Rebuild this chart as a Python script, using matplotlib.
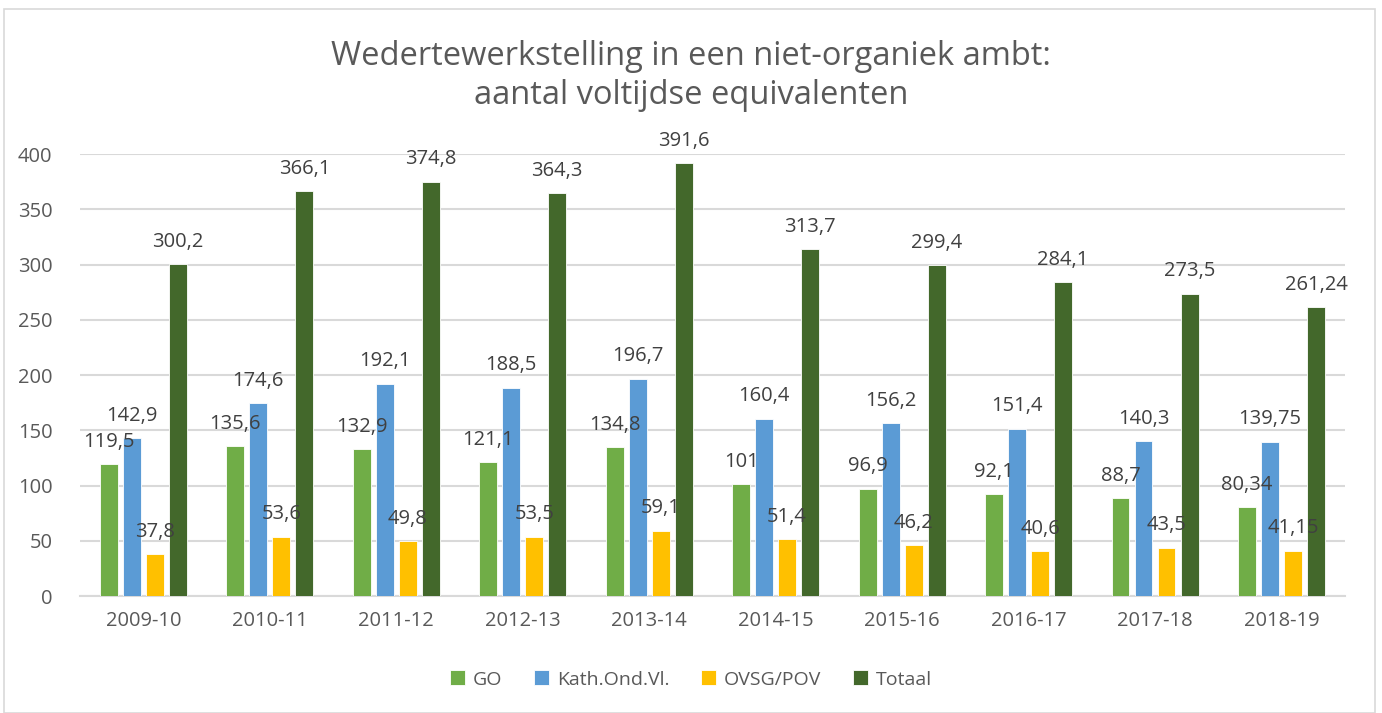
import matplotlib
matplotlib.use("Agg")
import matplotlib.pyplot as plt
from matplotlib.patches import Rectangle
import numpy as np

categories = ["2009-10", "2010-11", "2011-12", "2012-13", "2013-14",
              "2014-15", "2015-16", "2016-17", "2017-18", "2018-19"]
go = [119.5, 135.6, 132.9, 121.1, 134.8, 101, 96.9, 92.1, 88.7, 80.34]
kath = [142.9, 174.6, 192.1, 188.5, 196.7, 160.4, 156.2, 151.4, 140.3, 139.75]
ovsg = [37.8, 53.6, 49.8, 53.5, 59.1, 51.4, 46.2, 40.6, 43.5, 41.15]
totaal = [300.2, 366.1, 374.8, 364.3, 391.6, 313.7, 299.4, 284.1, 273.5, 261.24]
series_names = ["GO", "Kath.Ond.Vl.", "OVSG/POV", "Totaal"]
colors = ["#70AD47", "#5B9BD5", "#FFC000", "#43682B"]
title = "Wedertewerkstelling in een niet-organiek ambt:\naantal voltijdse equivalenten"

plt.rcParams['font.family'] = ['Open Sans', 'DejaVu Sans']

fig = plt.figure(figsize=(13.82, 7.13), dpi=100)
ax = fig.add_axes([0.058, 0.164, 0.915, 0.62])

x = np.arange(len(categories))
width = 0.142
step = 0.182
series = [go, kath, ovsg, totaal]

def fmt(v):
    s = ("%.2f" % v).rstrip("0").rstrip(".")
    return s.replace(".", ",")

for i, (vals, name, col) in enumerate(zip(series, series_names, colors)):
    offs = (i - 1.5) * step
    ax.bar(x + offs, vals, width, color=col, label=name, zorder=3,
           edgecolor="white", linewidth=0.6)
    for xi, v in zip(x + offs, vals):
        ax.annotate(fmt(v), (xi, v), xytext=(0, 9), textcoords="offset points",
                    ha="center", va="bottom", fontsize=14.5, color="#404040",
                    annotation_clip=False, zorder=5)

ax.set_ylim(0, 400)
ax.set_xlim(-0.5, len(categories) - 0.5)
ax.set_yticks(range(0, 401, 50))
ax.set_xticks(x)
ax.set_xticklabels(categories)
ax.tick_params(axis="both", length=0, labelsize=14.5, labelcolor="#595959")
ax.tick_params(axis="x", pad=11)
ax.tick_params(axis="y", pad=20)
ax.grid(axis="y", color="#D9D9D9", linewidth=1.5, zorder=0)
for s in ["top", "right", "left"]:
    ax.spines[s].set_visible(False)
ax.spines["bottom"].set_color("#D9D9D9")
ax.spines["bottom"].set_linewidth(1.5)

fig.text(0.5, 0.893, title, ha="center", va="center", fontsize=23.5,
         color="#595959", linespacing=1.25)

leg = fig.legend(loc="center", bbox_to_anchor=(0.5, 0.047), ncol=4,
                 frameon=False, fontsize=14, handlelength=0.8, handleheight=0.8,
                 handletextpad=0.4, columnspacing=1.6)
for t in leg.get_texts():
    t.set_color("#595959")

fig.patches.append(Rectangle((0.003, 0.0), 0.992, 0.988, transform=fig.transFigure,
                             fill=False, edgecolor="#D9D9D9", linewidth=1.2))

fig.savefig("out.png", dpi=100)
